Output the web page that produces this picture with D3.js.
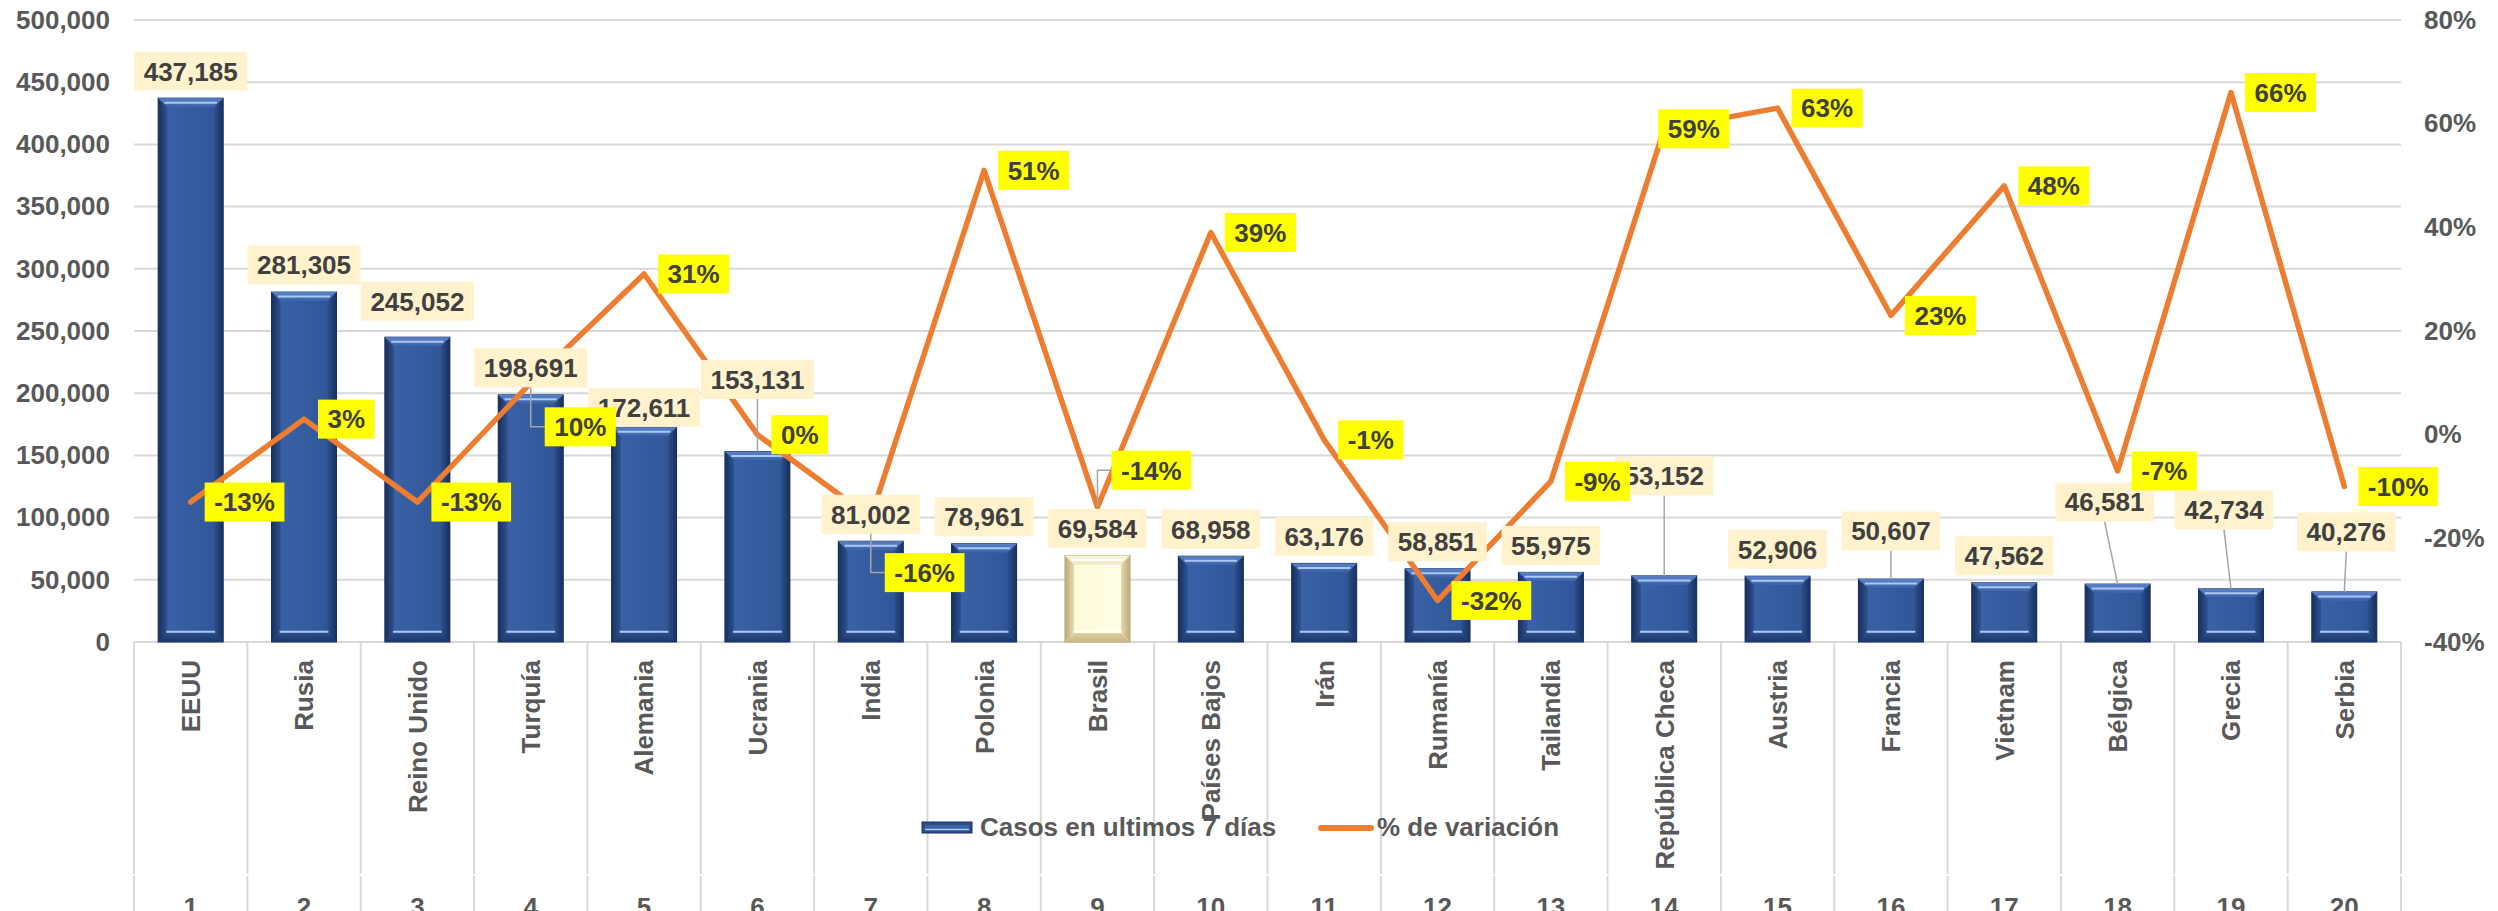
<!DOCTYPE html>
<html><head><meta charset="utf-8">
<script src="https://cdn.jsdelivr.net/npm/d3@7"></script>
<style>
html,body{margin:0;padding:0;background:#fff;overflow:hidden}
text{font-family:"Liberation Sans",Arial,Helvetica,sans-serif;font-weight:bold}
</style>
</head><body>
<svg id="chart" width="2498" height="911"></svg>
<script>
// ---------------- DATA ----------------
const categories = ["EEUU","Rusia","Reino Unido","Turquía","Alemania","Ucrania","India","Polonia","Brasil","Países Bajos","Irán","Rumanía","Tailandia","República Checa","Austria","Francia","Vietnam","Bélgica","Grecia","Serbia"];
const ranks = ["1","2","3","4","5","6","7","8","9","10","11","12","13","14","15","16","17","18","19","20"];
const cases = [437185,281305,245052,198691,172611,153131,81002,78961,69584,68958,63176,58851,55975,53152,52906,50607,47562,46581,42734,40276];
const variation = [-13,3,-13,10,31,0,-16,51,-14,39,-1,-32,-9,59,63,23,48,-7,66,-10];
const leftTicks = [0,50000,100000,150000,200000,250000,300000,350000,400000,450000,500000];
const rightTicks = [-40,-20,0,20,40,60,80];
const seriesNames = ["Casos en ultimos 7 días","% de variación"];
const highlighted = ["Brasil"];

// ---------------- LAYOUT (label nudges, px) ----------------
const barLabelDx = [0,0,0,0,0, 0,0,0,0,0, 0,0,0,0,0, 0,0,-13,-7,2];
const barLabelDy = [0,0,-9,0,7, -45,0,0,0,0, 0,0,0,-73,0, -21,0,-55,-52,-33];
const pctLabelDx = [0,0,0,0,0, 0,0,0,0,0, 0,0,0,-20,0, 0,0,0,0,0];
const pctLabelDy = [0,0,0,44,0, 0,55,0,-37,0, 0,0,0,0,0, 0,0,0,0,0];

// ---------------- SETUP ----------------
const svg = d3.select("#chart");
const P = {left:134, right:2401, top:20, bottom:642};
const x = d3.scaleBand().domain(categories).range([P.left, P.right]).padding(0);
const yL = d3.scaleLinear().domain([0,500000]).range([P.bottom, P.top]);
const yR = d3.scaleLinear().domain([-40,80]).range([P.bottom, P.top]);
const cx = c => x(c) + x.bandwidth()/2;
const barW = 65;
const grid = "#D9D9D9", axisText = "#595959", labelText = "#404040";
const FS = 26;

// gradients
const defs = svg.append("defs");
function lin(id, stops, horiz){
  const g = defs.append("linearGradient").attr("id",id)
    .attr("x1","0").attr("y1","0").attr("x2",horiz?"1":"0").attr("y2",horiz?"0":"1");
  stops.forEach(s=>g.append("stop").attr("offset",s[0]).attr("stop-color",s[1]));
}
lin("bL",[[0,"#17305c"],[1,"#2d5190"]],true);
lin("bR",[[0,"#2d5190"],[1,"#17305c"]],true);
lin("bT",[[0,"#5b82c6"],[1,"#3b62a6"]],false);
lin("bB",[[0,"#2b4d8a"],[1,"#1c3666"]],false);
lin("bF",[[0,"#3a61a6"],[0.5,"#355c9f"],[1,"#31579a"]],true);
lin("cL",[[0,"#b9aa78"],[1,"#e6dcb0"]],true);
lin("cR",[[0,"#e6dcb0"],[1,"#b9aa78"]],true);
lin("cT",[[0,"#fbf6dc"],[1,"#efe7c0"]],false);
lin("cB",[[0,"#ddd2a2"],[1,"#c4b684"]],false);
lin("cF",[[0,"#fffbd8"],[1,"#fffde6"]],true);

// gridlines
svg.append("g").selectAll("line").data(leftTicks).join("line")
  .attr("x1",P.left).attr("x2",P.right)
  .attr("y1",d=>yL(d)).attr("y2",d=>yL(d))
  .attr("stroke",grid).attr("stroke-width",2);

// left axis
const axL = svg.append("g").attr("transform",`translate(${P.left},0)`)
  .call(d3.axisLeft(yL).tickValues(leftTicks).tickFormat(d3.format(",")).tickSize(0).tickPadding(24));
axL.select(".domain").remove();
axL.selectAll("text").attr("font-size",FS).attr("fill",axisText).attr("font-family",null);

// right axis
const axR = svg.append("g").attr("transform",`translate(${P.right},0)`)
  .call(d3.axisRight(yR).tickValues(rightTicks).tickFormat(d=>d+"%").tickSize(0).tickPadding(23));
axR.select(".domain").remove();
axR.selectAll("text").attr("font-size",FS).attr("fill",axisText).attr("font-family",null);

// category axis lines
const bounds = categories.map(c=>x(c)).concat([P.right]);
const catG = svg.append("g");
catG.selectAll("line.t1").data(bounds).join("line").attr("class","t1")
  .attr("x1",d=>d).attr("x2",d=>d).attr("y1",P.bottom).attr("y2",874)
  .attr("stroke",grid).attr("stroke-width",2);
catG.selectAll("line.t2").data(bounds).join("line").attr("class","t2")
  .attr("x1",d=>d).attr("x2",d=>d).attr("y1",876).attr("y2",911)
  .attr("stroke",grid).attr("stroke-width",2);
catG.append("line").attr("x1",P.left).attr("x2",P.right).attr("y1",P.bottom).attr("y2",P.bottom)
  .attr("stroke",grid).attr("stroke-width",2);

catG.selectAll("text.cat").data(categories).join("text").attr("class","cat")
  .attr("transform",d=>`translate(${cx(d)},660) rotate(-90)`)
  .attr("text-anchor","end").attr("dy","0.36em")
  .attr("font-size",FS).attr("fill",axisText).text(d=>d);
catG.selectAll("text.rank").data(categories).join("text").attr("class","rank")
  .attr("x",(d,i)=>cx(d)).attr("y",916).attr("text-anchor","middle")
  .attr("font-size",FS).attr("fill",axisText).text((d,i)=>ranks[i]);

// bevel bar
function bevelBar(g, x0, y0, w, h, cream){
  const b = Math.min(9, h/3, w/4);
  const p = cream ? "c" : "b";
  g.append("rect").attr("x",x0).attr("y",y0).attr("width",w).attr("height",h)
    .attr("fill", cream?"#f3ecc6":"#2c4f8c").attr("stroke",cream?"#b3a472":"#1a3160").attr("stroke-width",1);
  g.append("rect").attr("x",x0+b).attr("y",y0+b).attr("width",w-2*b).attr("height",Math.max(0,h-2*b)).attr("fill",`url(#${p}F)`);
  const poly = pts => g.append("polygon").attr("points",pts.map(q=>q.join(",")).join(" "));
  poly([[x0,y0],[x0+b,y0+b],[x0+b,y0+h-b],[x0,y0+h]]).attr("fill",`url(#${p}L)`);
  poly([[x0+w,y0],[x0+w-b,y0+b],[x0+w-b,y0+h-b],[x0+w,y0+h]]).attr("fill",`url(#${p}R)`);
  poly([[x0,y0],[x0+w,y0],[x0+w-b,y0+b],[x0+b,y0+b]]).attr("fill",`url(#${p}T)`);
  poly([[x0,y0+h],[x0+w,y0+h],[x0+w-b,y0+h-b],[x0+b,y0+h-b]]).attr("fill",`url(#${p}B)`);
  const hl = cream ? "#ffffff" : "#a9c9f2";
  g.append("line").attr("x1",x0+b*0.7).attr("x2",x0+w-b*0.7).attr("y1",y0+b*0.5).attr("y2",y0+b*0.5)
    .attr("stroke",hl).attr("stroke-width",2);
  g.append("line").attr("x1",x0+b*0.9).attr("x2",x0+w-b*0.9).attr("y1",y0+h-b*1.15).attr("y2",y0+h-b*1.15)
    .attr("stroke",hl).attr("stroke-width",2);
}

const barsG = svg.append("g");
categories.forEach((c,i)=>{
  const g = barsG.append("g");
  const top = yL(cases[i]);
  bevelBar(g, cx(c)-barW/2, top, barW, P.bottom-top, highlighted.includes(c));
});

// line
svg.append("path").datum(variation)
  .attr("d", d3.line().x((d,i)=>cx(categories[i])).y(d=>yR(d)))
  .attr("fill","none").attr("stroke","#ED7D31").attr("stroke-width",5.5)
  .attr("stroke-linejoin","round").attr("stroke-linecap","round");

// labels
const leadG = svg.append("g");
const barLabG = svg.append("g");
const pctLabG = svg.append("g");
const fmt = d3.format(",");
function box(g, cxp, cyp, txt, fill, anchorLeft){
  const t = g.append("text").attr("font-size",FS).attr("fill",labelText).attr("text-anchor","middle").text(txt);
  const tw = t.node().getComputedTextLength();
  const w = tw + 19, h = 39;
  const left = anchorLeft ? cxp : cxp - w/2;
  g.insert("rect","text").attr("x",left).attr("y",cyp-h/2).attr("width",w).attr("height",h).attr("fill",fill);
  t.attr("x",left+w/2).attr("y",cyp).attr("dy","0.36em");
  return {left, w, h};
}
categories.forEach((c,i)=>{
  const bx = cx(c), top = yL(cases[i]);
  const lcx = bx + barLabelDx[i], lcy = top - 27 + barLabelDy[i];
  if (barLabelDy[i] < -15){
    leadG.append("line").attr("x1",lcx).attr("y1",lcy+19.5).attr("x2",bx).attr("y2",top)
      .attr("stroke","#A6A6A6").attr("stroke-width",1.5);
  }
  box(barLabG.append("g"), lcx, lcy, fmt(cases[i]), "#FFF2CC", false);
});
categories.forEach((c,i)=>{
  const px = cx(c), py = yR(variation[i]);
  const left = px + 14 + pctLabelDx[i], lcy = py + pctLabelDy[i];
  if (pctLabelDy[i] !== 0){
    leadG.append("polyline").attr("points",`${px},${py} ${px},${lcy} ${left},${lcy}`)
      .attr("fill","none").attr("stroke","#A6A6A6").attr("stroke-width",1.5);
  }
  box(pctLabG.append("g"), left, lcy, variation[i]+"%", "#FFFF00", true);
});

// legend
const lg = svg.append("g");
{
  const g = lg.append("g");
  const x0 = 922, y0 = 822, w = 50, h = 11;
  g.append("rect").attr("x",x0).attr("y",y0).attr("width",w).attr("height",h).attr("fill","#2c4f8c").attr("stroke","#1a3160");
  g.append("rect").attr("x",x0+3).attr("y",y0+3).attr("width",w-6).attr("height",h-6).attr("fill","#3a61a6");
  g.append("line").attr("x1",x0+3).attr("x2",x0+w-3).attr("y1",y0+h-3.5).attr("y2",y0+h-3.5).attr("stroke","#a9c9f2").attr("stroke-width",1.5);
  g.append("text").attr("x",980).attr("y",827).attr("dy","0.36em").attr("font-size",FS).attr("fill",axisText).text(seriesNames[0]);
  lg.append("line").attr("x1",1321).attr("x2",1371).attr("y1",828).attr("y2",828)
    .attr("stroke","#ED7D31").attr("stroke-width",6).attr("stroke-linecap","round");
  lg.append("text").attr("x",1377).attr("y",827).attr("dy","0.36em").attr("font-size",FS).attr("fill",axisText).text(seriesNames[1]);
}
</script>
</body></html>
